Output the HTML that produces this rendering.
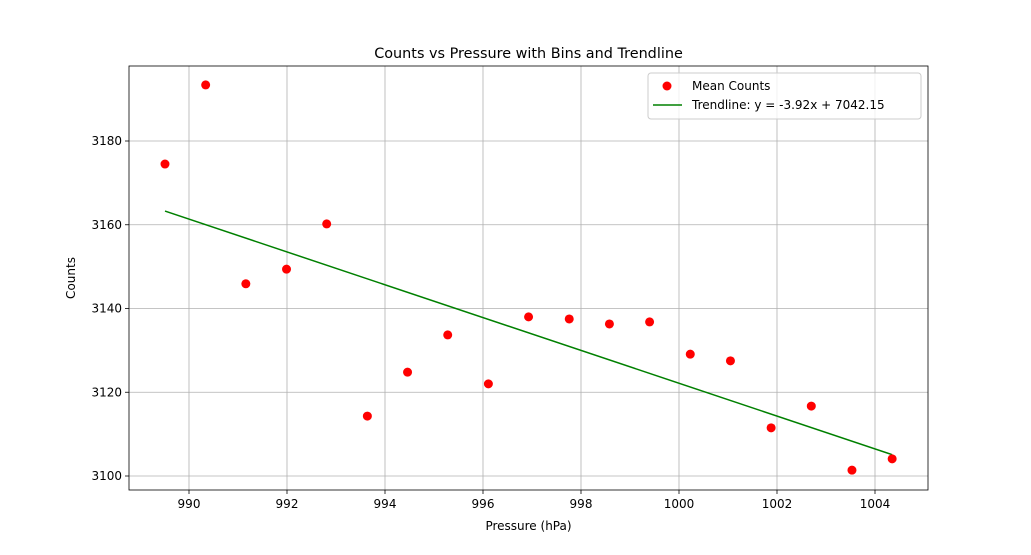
<!DOCTYPE html>
<html><head><meta charset="utf-8"><style>
body{margin:0;background:#fff;}
svg text{font-family:"DejaVu Sans","Liberation Sans",sans-serif;fill:#000;}
</style></head><body>
<svg id="chart" width="1031" height="550" xmlns="http://www.w3.org/2000/svg"></svg>
<script>
const pressures=[989.51,990.34,991.16,991.99,992.81,993.64,994.46,995.28,996.11,996.93,997.76,998.58,999.40,1000.23,1001.05,1001.88,1002.70,1003.53,1004.35];
const counts=[3174.5,3193.4,3145.9,3149.4,3160.2,3114.3,3124.8,3133.7,3122.0,3138.0,3137.5,3136.3,3136.8,3129.1,3127.5,3111.5,3116.7,3101.4,3104.1];
const slope=-3.92, intercept=7042.15;
const xTicks=[990,992,994,996,998,1000,1002,1004];
const yTicks=[3100,3120,3140,3160,3180];

const NS="http://www.w3.org/2000/svg";
const svg=document.getElementById('chart');
const L=129,R=928,T=66,B=490;
const xs=v=>189+(v-990)*49;
const ys=v=>476-(v-3100)*4.1875;
function mk(tag,attrs,parent){const e=document.createElementNS(NS,tag);for(const k in attrs)e.setAttribute(k,attrs[k]);(parent||svg).appendChild(e);return e;}

const grid=mk('g',{});


xTicks.forEach(t=>{
  mk('line',{x1:xs(t),x2:xs(t),y1:T,y2:B,stroke:'#b0b0b0','stroke-width':0.8},grid);
  mk('line',{x1:xs(t),x2:xs(t),y1:B,y2:B+4,stroke:'#000','stroke-width':0.8});
  const tx=mk('text',{x:xs(t),y:B+18,'text-anchor':'middle','font-size':12});
  tx.textContent=t;
  
  
});
yTicks.forEach(t=>{
  mk('line',{x1:L,x2:R,y1:ys(t),y2:ys(t),stroke:'#b0b0b0','stroke-width':0.8},grid);
  mk('line',{x1:L-4,x2:L,y1:ys(t),y2:ys(t),stroke:'#000','stroke-width':0.8});
  const tx=mk('text',{x:L-7,y:ys(t)+4,'text-anchor':'end','font-size':12});
  tx.textContent=t;
  
  
});

const xmin=Math.min(...pressures),xmax=Math.max(...pressures);
const tl=mk('line',{x1:xs(xmin),y1:ys(slope*xmin+intercept),x2:xs(xmax),y2:ys(slope*xmax+intercept),stroke:'#008000','stroke-width':1.5});



pressures.forEach((p,i)=>{
  const c=mk('circle',{cx:xs(p),cy:ys(counts[i]),r:4.5,fill:'#ff0000'});
  
  
});

const frame=mk('rect',{x:L,y:T,width:R-L,height:B-T,fill:'none',stroke:'#000','stroke-width':0.8});



let t=mk('text',{x:528.5,y:58,'text-anchor':'middle','font-size':14.4});t.textContent='Counts vs Pressure with Bins and Trendline';


t=mk('text',{x:528.5,y:530,'text-anchor':'middle','font-size':12});t.textContent='Pressure (hPa)';


t=mk('text',{x:0,y:0,'text-anchor':'middle','font-size':12,transform:'translate(75,278) rotate(-90)'});t.textContent='Counts';



const lg=mk('g',{});


mk('rect',{x:648,y:73,width:273,height:46,rx:3,fill:'#fff','fill-opacity':0.8,stroke:'#ccc','stroke-width':1},lg);
mk('circle',{cx:667,cy:86,r:4.5,fill:'#ff0000'},lg);
t=mk('text',{x:692,y:90,'font-size':12},lg);t.textContent='Mean Counts';


mk('line',{x1:653,x2:682,y1:105,y2:105,stroke:'#008000','stroke-width':1.5},lg);
t=mk('text',{x:692,y:109,'font-size':12},lg);t.textContent='Trendline: y = -3.92x + 7042.15';


</script>
</body></html>
